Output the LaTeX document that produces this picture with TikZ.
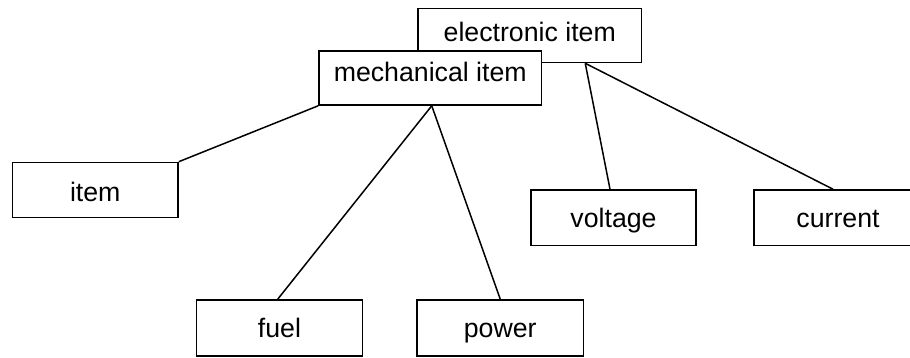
\documentclass[tikz,border=0pt]{standalone}
\usepackage{fontspec}
\setmainfont{Liberation Sans}
\usetikzlibrary{calc}
\begin{document}
\begin{tikzpicture}[x=1pt,y=-1pt,
  box/.style={draw=black,line width=1.6pt,fill=white,inner sep=0pt,
    text height=19pt,text depth=0pt,
    font=\fontsize{26.7}{30}\selectfont},
  conn/.style={line width=1.5pt}]
\useasboundingbox (0,0) rectangle (910,358);
\node[box,text height=12pt,minimum width=223.5pt,minimum height=54pt] (elec) at (529.75,35.5) {electronic item};
\node[box,text height=7.5pt,minimum width=222.5pt,minimum height=54pt] (mech) at (430.25,78) {mechanical item};
\node[box,text height=23pt,minimum width=165.5pt,minimum height=55pt] (item) at (95.25,190) {item};
\node[box,text height=20pt,minimum width=165pt,minimum height=55.5pt] (volt) at (613.5,217.75) {voltage};
\node[box,text height=20pt,minimum width=168pt,minimum height=55.5pt] (curr) at (838,217.75) {current};
\node[box,minimum width=166pt,minimum height=56pt] (fuel) at (279.5,328) {fuel};
\node[box,minimum width=166.5pt,minimum height=56pt] (power) at (500.25,328) {power};
\coordinate (e1) at ([xshift=55.5pt]elec.south);
\coordinate (m1) at ([xshift=1.5pt]mech.south);
\draw[conn] (item.north east) -- (mech.south west);
\draw[conn] (m1) -- ([xshift=-1.8pt]fuel.north);
\draw[conn] (m1) -- (power.north);
\draw[conn] (e1) -- ([xshift=-3.5pt]volt.north);
\draw[conn] (e1) -- ([xshift=-5pt]curr.north);
\end{tikzpicture}
\end{document}
